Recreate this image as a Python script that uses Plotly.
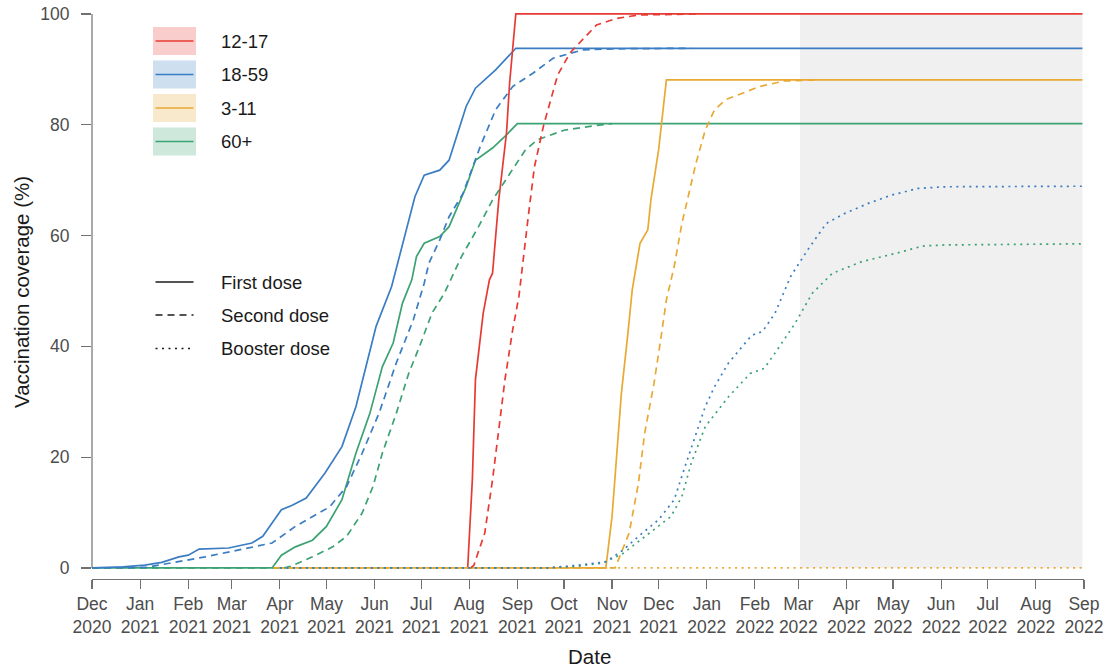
import plotly.graph_objects as go

# ---------------- data ----------------
groups = ["12-17", "18-59", "3-11", "60+"]
doses = ["First dose", "Second dose", "Booster dose"]

month_ticks = ["2020-12-01", "2021-01-01", "2021-02-01", "2021-03-01", "2021-04-01", "2021-05-01",
               "2021-06-01", "2021-07-01", "2021-08-01", "2021-09-01", "2021-10-01", "2021-11-01",
               "2021-12-01", "2022-01-01", "2022-02-01", "2022-03-01", "2022-04-01", "2022-05-01",
               "2022-06-01", "2022-07-01", "2022-08-01", "2022-09-01"]
month_labels = ["Dec<br>2020", "Jan<br>2021", "Feb<br>2021", "Mar<br>2021", "Apr<br>2021", "May<br>2021",
                "Jun<br>2021", "Jul<br>2021", "Aug<br>2021", "Sep<br>2021", "Oct<br>2021", "Nov<br>2021",
                "Dec<br>2021", "Jan<br>2022", "Feb<br>2022", "Mar<br>2022", "Apr<br>2022", "May<br>2022",
                "Jun<br>2022", "Jul<br>2022", "Aug<br>2022", "Sep<br>2022"]

shade_start = "2022-03-02"
shade_end = "2022-08-31"

# 18-59
a1859_first_dates = ["2020-12-01", "2020-12-21", "2021-01-04", "2021-01-15", "2021-01-26", "2021-02-01",
                     "2021-02-08", "2021-02-27", "2021-03-14", "2021-03-21", "2021-03-27", "2021-04-02",
                     "2021-04-09", "2021-04-18", "2021-04-30", "2021-05-11", "2021-05-20", "2021-05-26",
                     "2021-06-02", "2021-06-12", "2021-06-17", "2021-06-27", "2021-07-03", "2021-07-13",
                     "2021-07-19", "2021-07-30", "2021-08-05", "2021-08-18", "2021-08-31", "2022-08-31"]
a1859_first_vals = [0, 0.2, 0.5, 1.0, 2.0, 2.3, 3.4, 3.6, 4.5, 5.7, 8.1, 10.5, 11.3, 12.6, 17.1, 21.9,
                    29.1, 35.7, 43.6, 50.8, 56.2, 67.0, 70.9, 71.8, 73.6, 83.3, 86.6, 89.9, 93.8, 93.8]

a1859_second_dates = ["2020-12-01", "2021-01-05", "2021-01-13", "2021-02-12", "2021-03-10", "2021-03-27",
                      "2021-04-11", "2021-05-03", "2021-05-14", "2021-05-24", "2021-06-04", "2021-06-15",
                      "2021-06-26", "2021-07-03", "2021-07-06", "2021-07-13", "2021-07-19", "2021-07-28",
                      "2021-08-08", "2021-08-18", "2021-08-29", "2021-09-11", "2021-09-24", "2021-10-13",
                      "2021-11-01", "2021-12-22"]
a1859_second_vals = [0, 0.1, 0.5, 2.0, 3.5, 4.5, 7.5, 11.0, 14.7, 20.7, 28.0, 37.0, 44.8, 51.4, 55.0,
                     59.2, 63.4, 67.6, 76.0, 82.7, 86.9, 89.3, 92.0, 93.5, 93.7, 93.8]

a1859_booster_dates = ["2021-04-01", "2021-09-20", "2021-10-10", "2021-10-28", "2021-11-08", "2021-11-18",
                       "2021-12-01", "2021-12-11", "2021-12-18", "2021-12-23", "2021-12-31", "2022-01-06",
                       "2022-01-15", "2022-01-30", "2022-02-06", "2022-02-14", "2022-02-24", "2022-03-07",
                       "2022-03-19", "2022-03-31", "2022-04-15", "2022-04-30", "2022-05-17", "2022-06-03",
                       "2022-08-31"]
a1859_booster_vals = [0, 0, 0.5, 1.1, 3.2, 5.7, 8.7, 12.3, 18.3, 22.5, 29.1, 32.7, 37.0, 42.0, 42.7,
                      46.0, 52.6, 57.4, 62.2, 64.0, 65.8, 67.3, 68.5, 68.8, 68.9]

# 60+
a60_first_dates = ["2020-12-01", "2021-03-27", "2021-04-02", "2021-04-11", "2021-04-22", "2021-05-01",
                   "2021-05-11", "2021-05-20", "2021-05-29", "2021-06-06", "2021-06-13", "2021-06-19",
                   "2021-06-25", "2021-06-28", "2021-07-03", "2021-07-13", "2021-07-19", "2021-07-30",
                   "2021-08-05", "2021-08-16", "2021-08-24", "2021-09-01", "2022-08-31"]
a60_first_vals = [0, 0, 2.3, 3.8, 5.0, 7.5, 12.3, 20.7, 27.9, 36.3, 40.6, 47.8, 52.0, 56.2, 58.6, 59.8,
                  61.6, 68.8, 73.6, 75.8, 77.9, 80.2, 80.2]

a60_second_dates = ["2020-12-01", "2021-04-04", "2021-04-08", "2021-04-22", "2021-05-05", "2021-05-14",
                    "2021-05-24", "2021-05-31", "2021-06-06", "2021-06-15", "2021-06-23", "2021-06-30",
                    "2021-07-08", "2021-07-16", "2021-07-27", "2021-08-07", "2021-08-16", "2021-08-27",
                    "2021-09-06", "2021-09-14", "2021-10-01", "2021-10-20", "2021-11-01"]
a60_second_vals = [0, 0, 0.3, 2.0, 3.8, 5.7, 9.9, 14.7, 20.7, 27.9, 35.1, 40.0, 46.0, 49.6, 56.2, 61.6,
                   66.4, 71.2, 75.4, 77.3, 79.0, 79.8, 80.2]

a60_booster_dates = ["2021-04-01", "2021-09-20", "2021-10-10", "2021-10-26", "2021-11-08", "2021-11-22",
                     "2021-12-09", "2021-12-16", "2021-12-22", "2021-12-31", "2022-01-15", "2022-01-29",
                     "2022-02-07", "2022-02-14", "2022-02-27", "2022-03-10", "2022-03-23", "2022-04-11",
                     "2022-05-03", "2022-05-20", "2022-06-03", "2022-08-31"]
a60_booster_vals = [0, 0, 0.3, 0.9, 2.6, 5.7, 9.3, 12.9, 18.9, 25.5, 30.9, 35.1, 36.0, 38.8, 44.2, 49.6,
                    53.2, 55.3, 56.8, 58.1, 58.3, 58.5]

# 12-17
a1217_first_dates = ["2021-07-31", "2021-08-03", "2021-08-05", "2021-08-10", "2021-08-14", "2021-08-16",
                     "2021-08-20", "2021-08-25", "2021-08-27", "2021-08-31", "2022-08-31"]
a1217_first_vals = [0, 15.9, 34.0, 46.0, 52.0, 53.2, 66.4, 78.5, 87.5, 100, 100]

a1217_second_dates = ["2021-08-02", "2021-08-04", "2021-08-11", "2021-08-16", "2021-08-20", "2021-08-24",
                      "2021-08-29", "2021-09-02", "2021-09-08", "2021-09-12", "2021-09-18", "2021-09-27",
                      "2021-10-05", "2021-10-14", "2021-10-22", "2021-11-04", "2021-11-18", "2021-12-25"]
a1217_second_vals = [0, 0.5, 6.3, 15.9, 24.9, 34.0, 43.0, 49.0, 63.4, 72.4, 80.0, 89.0, 93.0, 95.6,
                     98.0, 99.2, 99.8, 100]

# 3-11
a311_first_dates = ["2021-03-28", "2021-10-28", "2021-11-01", "2021-11-05", "2021-11-07", "2021-11-11",
                    "2021-11-14", "2021-11-19", "2021-11-24", "2021-11-26", "2021-12-01", "2021-12-06",
                    "2022-08-31"]
a311_first_vals = [0, 0, 9.3, 24.3, 31.5, 41.8, 50.2, 58.6, 61.0, 66.4, 75.5, 88.1, 88.1]

a311_second_dates = ["2021-03-28", "2021-11-03", "2021-11-12", "2021-11-18", "2021-11-22", "2021-11-28",
                     "2021-12-02", "2021-12-06", "2021-12-11", "2021-12-16", "2021-12-21", "2021-12-25",
                     "2021-12-31", "2022-01-06", "2022-01-13", "2022-02-04", "2022-02-20", "2022-03-15"]
a311_second_vals = [0, 0, 6.3, 15.3, 24.3, 33.3, 40.6, 48.4, 54.4, 62.2, 68.2, 73.0, 79.0, 82.7, 84.5,
                    86.9, 87.9, 88.1]

a311_booster_dates = ["2021-03-28", "2022-08-31"]
a311_booster_vals = [0, 0]

# ---------------- styling ----------------
colors = {"12-17": "#E63B35", "18-59": "#3A7DC2", "3-11": "#E8A935", "60+": "#3CA272"}
fills = {"12-17": "#F9CDCB", "18-59": "#CEDFEF", "3-11": "#F9E9CC", "60+": "#CEE8DC"}
dash_map = {"First dose": "solid", "Second dose": "7px,5px", "Booster dose": "2px,4.5px"}

series = [
    ("60+", "First dose", a60_first_dates, a60_first_vals),
    ("18-59", "First dose", a1859_first_dates, a1859_first_vals),
    ("3-11", "First dose", a311_first_dates, a311_first_vals),
    ("12-17", "First dose", a1217_first_dates, a1217_first_vals),
    ("60+", "Second dose", a60_second_dates, a60_second_vals),
    ("18-59", "Second dose", a1859_second_dates, a1859_second_vals),
    ("3-11", "Second dose", a311_second_dates, a311_second_vals),
    ("12-17", "Second dose", a1217_second_dates, a1217_second_vals),
    ("3-11", "Booster dose", a311_booster_dates, a311_booster_vals),
    ("60+", "Booster dose", a60_booster_dates, a60_booster_vals),
    ("18-59", "Booster dose", a1859_booster_dates, a1859_booster_vals),
]

fig = go.Figure()
for grp, dose, xs, ys in series:
    fig.add_trace(go.Scatter(
        x=xs, y=ys, mode="lines", name=f"{grp} {dose}", showlegend=False,
        line=dict(color=colors[grp], width=1.7, dash=dash_map[dose]),
    ))

# layout geometry (screen pixels; page body margin removed by post_script)
W, H = 1115, 667
L, R, T, B = 92, 31, 12, 88
pw, ph = W - L - R, H - T - B


def px(x):
    return (x - L) / pw


def py(y):
    return (H - B - y) / ph


shapes = []
annotations = []

# grey shaded projection period
shapes.append(dict(type="rect", xref="x", yref="y", x0=shade_start, x1=shade_end, y0=0, y1=100,
                   fillcolor="#F0F0F0", line=dict(width=0), layer="below"))
# y axis line (only 0..100)
shapes.append(dict(type="line", xref="paper", yref="y", x0=0, x1=0, y0=0, y1=100,
                   line=dict(color="#707070", width=1.2)))

# group legend
box_tops = [27, 60.5, 94, 127.5]
for grp, top in zip(groups, box_tops):
    bot = top + 28
    mid = (top + bot) / 2
    shapes.append(dict(type="rect", xref="paper", yref="paper", x0=px(153), x1=px(196),
                       y0=py(bot), y1=py(top), fillcolor=fills[grp], line=dict(width=0)))
    shapes.append(dict(type="line", xref="paper", yref="paper", x0=px(155.5), x1=px(193.5),
                       y0=py(mid), y1=py(mid), line=dict(color=colors[grp], width=1.7)))
    annotations.append(dict(text=grp, xref="paper", yref="paper", x=px(219), y=py(mid),
                            xanchor="left", yanchor="middle", showarrow=False,
                            font=dict(size=18.5, color="#1a1a1a", family="Liberation Sans, Arial")))

# dose legend
dose_y = [282, 315, 348.5]
for dose, yy in zip(doses, dose_y):
    shapes.append(dict(type="line", xref="paper", yref="paper", x0=px(155.5), x1=px(193.5),
                       y0=py(yy), y1=py(yy), line=dict(color="#1a1a1a", width=1.7, dash=dash_map[dose])))
    annotations.append(dict(text=dose, xref="paper", yref="paper", x=px(219), y=py(yy),
                            xanchor="left", yanchor="middle", showarrow=False,
                            font=dict(size=18.5, color="#1a1a1a", family="Liberation Sans, Arial")))

# axis titles
annotations.append(dict(text="Vaccination coverage (%)", xref="paper", yref="paper", x=px(21), y=py(292),
                        xanchor="center", yanchor="middle", textangle=-90, showarrow=False,
                        font=dict(size=20.5, color="#1a1a1a", family="Liberation Sans, Arial")))
annotations.append(dict(text="Date", xref="paper", yref="paper", x=px(589), y=py(656),
                        xanchor="center", yanchor="middle", showarrow=False,
                        font=dict(size=20.5, color="#1a1a1a", family="Liberation Sans, Arial")))

fig.update_layout(
    width=W, height=H,
    margin=dict(l=L, r=R, t=T, b=B, autoexpand=False),
    paper_bgcolor="white", plot_bgcolor="white",
    font=dict(family="Liberation Sans, Arial", size=17.5, color="#4d4d4d"),
    shapes=shapes, annotations=annotations, hovermode=False,
    xaxis=dict(type="date", range=["2020-12-01", "2022-09-01"], tickmode="array",
               tickvals=month_ticks, ticktext=month_labels, ticks="outside", ticklen=9,
               tickcolor="#707070", tickwidth=1.2, showline=True, linecolor="#707070", linewidth=1.2,
               showgrid=False, zeroline=False, automargin=False,
               tickfont=dict(size=17.5, color="#4d4d4d")),
    yaxis=dict(range=[-2, 100.35], tickvals=[0, 20, 40, 60, 80, 100], ticks="outside", ticklen=10,
               tickcolor="#707070", tickwidth=1.2, showline=False, showgrid=False, zeroline=False,
               automargin=False, tickfont=dict(size=17.5, color="#4d4d4d"), ticklabelstandoff=8,
               ticklabeloverflow="allow"),
)

fig.write_html("out.html", config={"displayModeBar": False, "staticPlot": True},
               post_script="document.body.style.margin='0px';document.body.style.overflow='hidden';")
